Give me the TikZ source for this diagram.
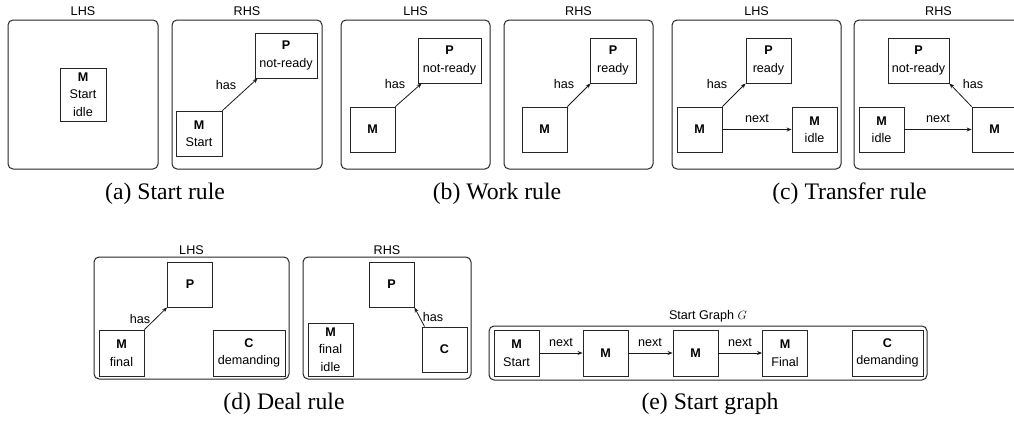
\documentclass[tikz,border=0pt]{standalone}
\usepackage{fontspec}
\setmainfont{Liberation Serif}
\setsansfont{Liberation Sans}
\usetikzlibrary{arrows.meta}
\tikzset{
  sftext/.style={font=\sffamily\fontsize{12.6}{17.5}\selectfont},
  panelbox/.style={draw=black!85, line width=1pt, rounded corners=5pt},
  gbox/.style={sftext, draw=black!85, line width=0.9pt, fill=white, align=center, inner sep=0pt,
     minimum width=45pt, minimum height=45pt},
  lbl/.style={sftext, inner sep=0pt},
  ptitle/.style={sftext, anchor=base, inner sep=0pt},
  capt/.style={font=\rmfamily\fontsize{23.7}{26}\selectfont, anchor=base, inner sep=0pt},
  conn/.style={draw=black!90, line width=0.8pt, -{Stealth[length=5pt,width=4pt]}},
}
\begin{document}
\begin{tikzpicture}[x=1pt,y=-1pt]
\useasboundingbox (0,0) rectangle (1014,423);
% ---------- (a) Start rule ----------
\node[ptitle] (aLt) at (83,15) {LHS};
\draw[panelbox] (8,20) rectangle (158,169);
\node[gbox, minimum width=46pt, minimum height=53pt] (aM) at (83,94.5) {\textbf{M}\\Start\\idle};
\node[ptitle] (aRt) at (247,15) {RHS};
\draw[panelbox] (172,20) rectangle (322,169);
\node[gbox, minimum width=62pt] (aP) at (286,55.5) {\textbf{P}\\not-ready};
\node[gbox, minimum width=46pt] (aM2) at (199,133.5) {\textbf{M}\\Start};
\draw[conn] (aM2.north east) -- ([xshift=3pt]aP.south west);
\node[lbl] (aH) at (226,85) {has};
\node[capt] (acap) at (165,199) {(a) Start rule};
% ---------- (b) Work rule ----------
\node[ptitle] (bLt) at (415.5,15) {LHS};
\draw[panelbox] (341,20) rectangle (490,169);
\node[gbox, minimum width=63pt] (bP) at (449.5,60.5) {\textbf{P}\\not-ready};
\node[gbox] (bM) at (372.5,129.5) {\textbf{M}};
\draw[conn] (bM.north east) -- ([xshift=4pt]bP.south west);
\node[lbl] (bH) at (395,84) {has};
\node[ptitle] (bRt) at (578.5,15) {RHS};
\draw[panelbox] (504,20) rectangle (653,169);
\node[gbox, minimum width=46pt] (bP2) at (613,60.5) {\textbf{P}\\ready};
\node[gbox] (bM2) at (544.5,129.5) {\textbf{M}};
\draw[conn] (bM2.north east) -- ([xshift=1pt]bP2.south west);
\node[lbl] (bH2) at (564,84) {has};
\node[capt] (bcap) at (497,199) {(b) Work rule};
% ---------- (c) Transfer rule ----------
\node[ptitle] (cLt) at (756.5,15) {LHS};
\draw[panelbox] (672,20) rectangle (841,169);
\node[gbox] (cP) at (768.5,60.5) {\textbf{P}\\ready};
\node[gbox] (cM) at (699.5,129.5) {\textbf{M}};
\node[gbox] (cMi) at (814.5,129.5) {\textbf{M}\\idle};
\draw[conn] (cM.north east) -- (cP.south west);
\draw[conn] (cM.east) -- (cMi.west);
\node[lbl] (cH) at (717,84) {has};
\node[lbl] (cN) at (757,118) {next};
\node[ptitle] (cRt) at (938.5,15) {RHS};
\draw[panelbox] (854,20) rectangle (1023,169);
\node[gbox, minimum width=61pt] (cP2) at (918.5,60.5) {\textbf{P}\\not-ready};
\node[gbox] (cMi2) at (881.5,129.5) {\textbf{M}\\idle};
\node[gbox] (cM2) at (994.5,129.5) {\textbf{M}};
\draw[conn] (cM2.north west) -- (cP2.south east);
\draw[conn] (cMi2.east) -- (cM2.west);
\node[lbl] (cN2) at (938,118) {next};
\node[lbl] (cH2) at (973,84) {has};
\node[capt] (ccap) at (849.5,199) {(c) Transfer rule};
% ---------- (d) Deal rule ----------
\node[ptitle] (dLt) at (191.5,254) {LHS};
\draw[panelbox] (94,257) rectangle (289,379);
\node[gbox] (dP) at (190,284.5) {\textbf{P}};
\node[gbox, minimum height=46pt] (dM) at (121.5,353) {\textbf{M}\\final};
\node[gbox, minimum width=72pt, minimum height=46pt] (dC) at (249,353) {\textbf{C}\\demanding};
\draw[conn] (dM.north east) -- (dP.south west);
\node[lbl] (dH) at (140,319) {has};
\node[ptitle] (dRt) at (387,254) {RHS};
\draw[panelbox] (303,257) rectangle (471,379);
\node[gbox] (dP2) at (391.5,284.5) {\textbf{P}};
\node[gbox, minimum height=53pt] (dM2) at (330.5,349.5) {\textbf{M}\\final\\idle};
\node[gbox] (dC2) at (444.5,349.5) {\textbf{C}};
\draw[conn] ([xshift=3pt]dC2.north west) -- (dP2.south east);
\node[lbl] (dH2) at (433,317) {has};
\node[capt] (dcap) at (284,409) {(d) Deal rule};
% ---------- (e) Start graph ----------
\node[ptitle] (eT) at (708,319) {Start Graph $G$};
\draw[panelbox] (489,326) rectangle (927,380);
\node[gbox, minimum height=46pt] (e1) at (516.5,353) {\textbf{M}\\Start};
\node[gbox, minimum height=46pt] (e2) at (605.5,353) {\textbf{M}};
\node[gbox, minimum height=46pt] (e3) at (695.5,353) {\textbf{M}};
\node[gbox, minimum height=46pt] (e4) at (785,353) {\textbf{M}\\Final};
\node[gbox, minimum width=71pt, minimum height=46pt] (e5) at (887.5,353) {\textbf{C}\\demanding};
\draw[conn] (e1.east) -- (e2.west);
\draw[conn] (e2.east) -- (e3.west);
\draw[conn] (e3.east) -- (e4.west);
\node[lbl] (eN1) at (561,342) {next};
\node[lbl] (eN2) at (650,342) {next};
\node[lbl] (eN3) at (740,342) {next};
\node[capt] (ecap) at (710,409) {(e) Start graph};
\end{tikzpicture}
\end{document}
